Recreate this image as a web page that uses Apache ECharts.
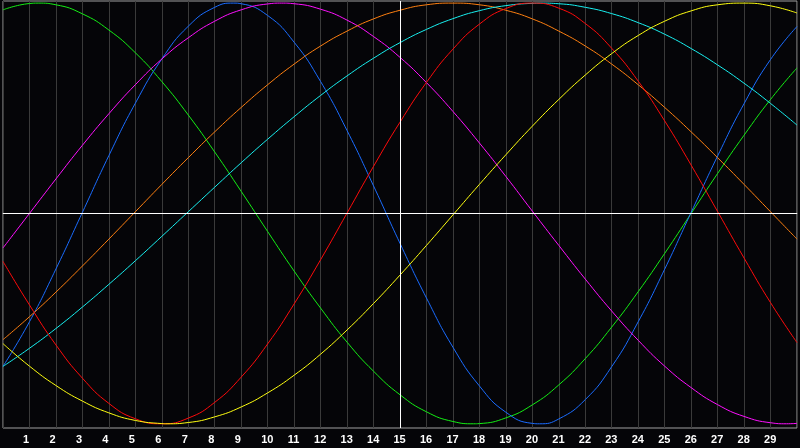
<!DOCTYPE html>
<html>
<head>
<meta charset="utf-8">
<script src="https://cdn.jsdelivr.net/npm/echarts@6/dist/echarts.min.js"></script>
<style>
html,body{margin:0;padding:0;background:#050508;}
#chart{width:800px;height:448px;}
</style>
</head>
<body>
<div id="chart"></div>
<script>
// Days along the x axis (0..30) and tick labels shown (1..29)
var days = [0,1,2,3,4,5,6,7,8,9,10,11,12,13,14,15,16,17,18,19,20,21,22,23,24,25,26,27,28,29,30];
var dayLabels = ['1','2','3','4','5','6','7','8','9','10','11','12','13','14','15','16','17','18','19','20','21','22','23','24','25','26','27','28','29'];

// Curve values read at each day (-1 .. 1)
var greenVals   = [0.968,0.998,0.992,0.949,0.872,0.764,0.627,0.468,0.292,0.105,-0.086,-0.274,-0.45,-0.612,-0.75,-0.862,-0.943,-0.989,-0.999,-0.972,-0.91,-0.815,-0.69,-0.54,-0.372,-0.19,0.0,0.19,0.372,0.542,0.692];
var blueVals    = [-0.727,-0.515,-0.264,0.005,0.275,0.524,0.734,0.89,0.98,0.997,0.941,0.814,0.627,0.394,0.131,-0.142,-0.402,-0.636,-0.82,-0.945,-0.998,-0.977,-0.885,-0.728,-0.515,-0.265,0.005,0.273,0.522,0.732,0.889];
var magentaVals = [-0.164,0.0,0.164,0.324,0.474,0.612,0.734,0.835,0.914,0.968,0.996,0.997,0.971,0.919,0.841,0.742,0.622,0.485,0.335,0.176,0.011,-0.152,-0.312,-0.464,-0.603,-0.726,-0.828,-0.909,-0.965,-0.995,-0.998];
var redVals     = [-0.228,-0.435,-0.625,-0.783,-0.903,-0.976,-1.0,-0.973,-0.898,-0.778,-0.62,-0.43,-0.22,0.002,0.224,0.434,0.623,0.781,0.9,0.974,1.0,0.976,0.903,0.785,0.629,0.44,0.23,0.009,-0.212,-0.424,-0.614];
var orangeVals  = [-0.6,-0.491,-0.374,-0.25,-0.122,0.008,0.138,0.265,0.388,0.504,0.612,0.71,0.796,0.867,0.925,0.966,0.992,1.0,0.992,0.966,0.925,0.867,0.796,0.71,0.612,0.504,0.388,0.265,0.138,0.008,-0.122];
var cyanVals    = [-0.727,-0.641,-0.547,-0.445,-0.337,-0.225,-0.109,0.008,0.125,0.241,0.353,0.46,0.561,0.654,0.738,0.812,0.875,0.926,0.964,0.988,0.999,0.997,0.98,0.95,0.907,0.852,0.784,0.706,0.619,0.523,0.42];
var yellowVals  = [-0.619,-0.726,-0.818,-0.892,-0.948,-0.984,-0.999,-0.994,-0.967,-0.92,-0.853,-0.769,-0.669,-0.554,-0.428,-0.293,-0.152,-0.007,0.138,0.279,0.415,0.542,0.658,0.76,0.846,0.914,0.963,0.992,1.0,0.987,0.953];

// Peaks / troughs read between day lines: [day, value]
var greenExtrema   = [[1.33,1.0],[17.78,-1.0]];
var blueExtrema    = [[8.72,1.0],[20.27,-1.0]];
var magentaExtrema = [[10.53,1.0],[29.6,-1.0]];
var redExtrema     = [];
var orangeExtrema  = [];
var cyanExtrema    = [[20.3,1.0]];
var yellowExtrema  = [[6.2,-1.0]];

var seriesDefs = [
  {name:'green',   color:'#14ee14', vals:greenVals,   ext:greenExtrema},
  {name:'blue',    color:'#1a6cff', vals:blueVals,    ext:blueExtrema},
  {name:'magenta', color:'#ff10ff', vals:magentaVals, ext:magentaExtrema},
  {name:'orange',  color:'#ff8010', vals:orangeVals,  ext:orangeExtrema},
  {name:'cyan',    color:'#18f0f0', vals:cyanVals,    ext:cyanExtrema},
  {name:'red',     color:'#ff0a0a', vals:redVals,     ext:redExtrema},
  {name:'yellow',  color:'#ffff10', vals:yellowVals,  ext:yellowExtrema}
];

function buildData(vals, ext){
  var pts = days.map(function(d,i){ return [d, vals[i]]; }).concat(ext);
  pts.sort(function(a,b){ return a[0]-b[0]; });
  return pts;
}

var series = seriesDefs.map(function(s){
  return {
    name: s.name, type: 'line', smooth: true, showSymbol: false, silent: true,
    lineStyle: {color: s.color, width: 1},
    data: buildData(s.vals, s.ext),
    z: 3
  };
});
// white center lines
series.unshift({
  type:'line', data:[], silent:true, z: 2,
  markLine: {
    silent:true, symbol:['none','none'], label:{show:false}, animation:false,
    lineStyle:{color:'#ffffff', width:1, type:'solid'},
    data:[{yAxis:0},{xAxis:15}]
  }
});

var chart = echarts.init(document.getElementById('chart'), null, {renderer:'canvas'});
chart.setOption({
  backgroundColor:'#050508',
  animation:false,
  grid:{left:1, right:1, top:1, bottom:20, show:true, borderColor:'#a0a0a0', borderWidth:1, backgroundColor:'#050508'},
  xAxis:{
    type:'value', min:0, max:30, interval:1,
    axisLine:{show:true, lineStyle:{color:'#a0a0a0', width:1}},
    axisTick:{show:false},
    splitLine:{show:true, lineStyle:{color:'#3a3a3a', width:1}},
    axisLabel:{
      show:true, color:'#ffffff', fontFamily:'Liberation Sans', fontWeight:'bold', fontSize:11, margin:6,
      showMinLabel:true, showMaxLabel:true,
      formatter:function(v){
        if (v < 1 || v > 29) return '';
        return '{d|' + dayLabels[v-1] + '}';
      },
      rich:{
        d:{width:13, align:'left', color:'#ffffff', fontFamily:'Liberation Sans', fontWeight:'bold', fontSize:11}
      }
    }
  },
  yAxis:{
    type:'value', min:-1.02, max:1.01,
    axisLine:{show:false}, axisTick:{show:false}, axisLabel:{show:false}, splitLine:{show:false}
  },
  series: series
});
</script>
</body>
</html>
